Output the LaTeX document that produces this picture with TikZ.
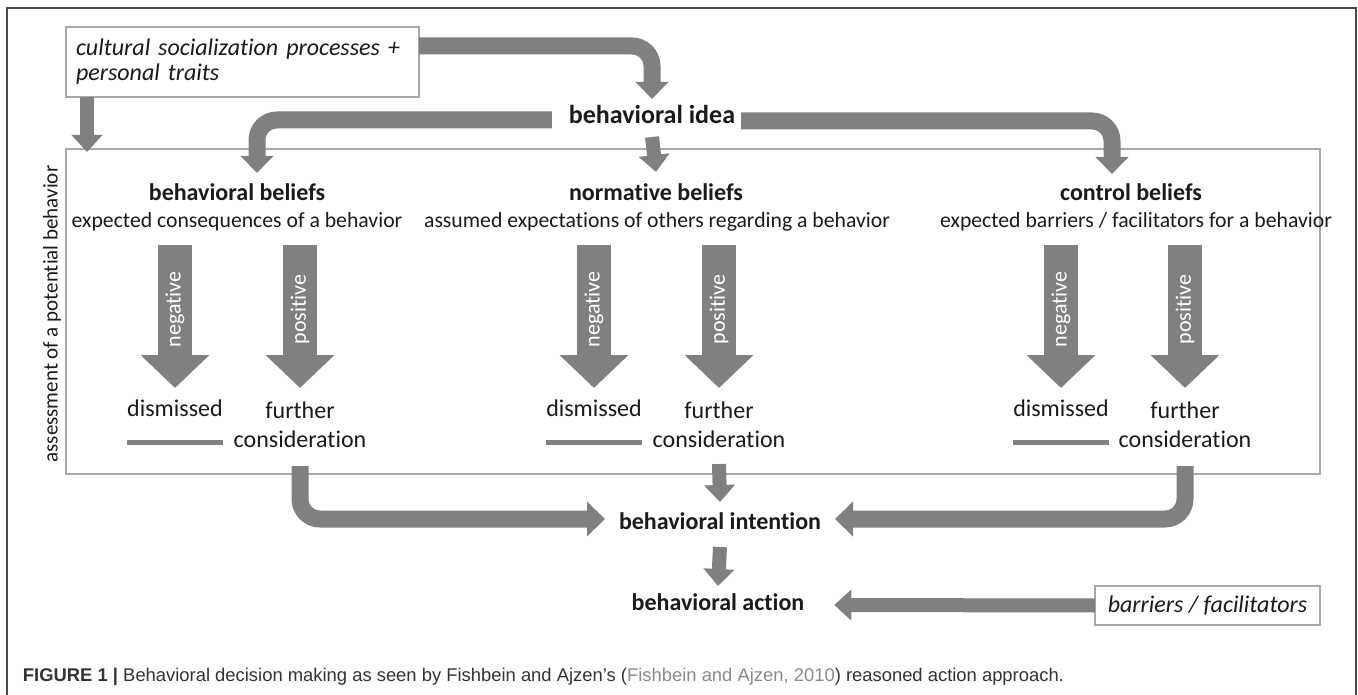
\documentclass[tikz,border=0pt]{standalone}
\usepackage{fontspec}
\setmainfont{Carlito}[Ligatures={NoCommon}]
\newfontfamily\capfont{Liberation Sans}
\usetikzlibrary{arrows.meta,calc}
\definecolor{ag}{HTML}{808080}
\definecolor{bx}{HTML}{A8A8A8}
\definecolor{txt}{HTML}{1A1A1A}
\definecolor{capc}{HTML}{333333}
\definecolor{capl}{HTML}{8A8A8A}
\begin{document}
\begin{tikzpicture}[x=1pt,y=-1pt,
  every node/.style={outer sep=0pt, text=txt},
  fat/.style={draw=ag, line width=17pt, rounded corners=20pt, -{Triangle[width=32pt,length=17pt]}},
  fatb/.style={draw=ag, line width=17pt, rounded corners=20pt, -{Triangle[width=34pt,length=18pt]}},
  short/.style={draw=ag, line width=14pt, -{Triangle[width=30pt,length=17pt]}},
  big/.style={draw=ag, line width=34pt, -{Triangle[width=67pt,length=33pt]}},
  dline/.style={draw=ag, line width=5pt},
  hd/.style={font=\fontsize{24}{28}\selectfont\bfseries, inner sep=0pt, text height=17pt, text depth=5pt},
  sb/.style={font=\fontsize{21.7}{26}\selectfont, inner sep=0pt, text height=15pt, text depth=5pt},
  lb/.style={font=\fontsize{24}{29}\selectfont, inner sep=0pt, text height=17pt, text depth=5pt},
  fc/.style={font=\fontsize{24}{29}\selectfont, inner sep=0pt, align=center},
  wt/.style={font=\fontsize{22}{26}\selectfont, text=white, rotate=90, inner sep=0pt},
  ibox/.style={draw=bx, line width=1.3pt, fill=white}]
\useasboundingbox (0,0) rectangle (1358,695);
% outer frame
\draw[color=black!72, line width=1.6pt] (7,695) -- (7,8) -- (1356,8) -- (1356,695);
% assessment box
\node[draw=bx, line width=1.4pt, minimum width=1254pt, minimum height=325pt, inner sep=0pt] (ib) at (693,311.5) {};
\node[font=\fontsize{21}{25}\selectfont, rotate=90, inner sep=0pt] (assess) at (52,314) {assessment of a potential behavior};
% cultural box
\node[ibox, text width=333pt, inner xsep=10pt, inner ysep=0pt, minimum height=70pt, align=left,
  font=\fontsize{24}{25}\selectfont\itshape] (cult) at (242.5,62) {cultural socialization processes +\\personal traits};
\node[hd, font=\fontsize{26}{30}\selectfont\bfseries, minimum height=38pt] (idea) at (652,118) {behavioral idea};
% column headings
\node[hd] (b1) at (237,195) {behavioral beliefs};
\node[hd] (n1) at (656,195) {normative beliefs};
\node[hd] (c1) at (1131,195) {control beliefs};
\node[sb] (s1) at (237,223) {expected consequences of a behavior};
\node[sb] (s2) at (657,223) {assumed expectations of others regarding a behavior};
\node[sb] (s3) at (1136,223) {expected barriers / facilitators for a behavior};
% outcomes
\node[lb] (d1) at (175,410) {dismissed};
\node[fc] (f1) at (300,424.5) {further\\consideration};
\node[lb] (d2) at (594,410) {dismissed};
\node[fc] (f2) at (719,424.5) {further\\consideration};
\node[lb] (d3) at (1061,410) {dismissed};
\node[fc] (f3) at (1185,424.5) {further\\consideration};
% bottom
\node[hd] (intention) at (720,523) {behavioral intention};
\node[hd] (action) at (718,604) {behavioral action};
\node[ibox, minimum width=225pt, minimum height=39pt, inner sep=0pt, font=\fontsize{24}{28}\selectfont\itshape] (bar) at (1207.5,605.5) {barriers / facilitators};
% top arrows
\draw[fat] ($(cult.north east)+(0,19)$) -| (idea.north);
\draw[short] ($(cult.south west)+(21,0)$) -- ($(ib.north west)+(21,3)$);
\draw[fat] ($(idea.west)+(-17,2)$) -| ($(b1.north)+(20,-11)$);
\draw[fat] ($(idea.east)+(6,3)$) -| ($(c1.north)+(-19,-10)$);
\draw[short] (idea.south) -- ($(n1.north)+(0,-12)$);
% big arrows
\foreach \d/\f/\s in {d1/f1/s1, d2/f2/s2, d3/f3/s3}{
  \draw[big] ($(\d |- \s.south)+(0,12)$) -- ($(\d.north)+(0,-11)$)
     node[wt, pos=0.45] {negative};
  \draw[big] ($(\f |- \s.south)+(0,12)$) -- ($(\f |- \d.north)+(0,-11)$)
     node[wt, pos=0.45] {positive};
  \draw[dline] ($(\d.south west)+(0,21)$) -- ($(\d.south east)+(0,21)$);
}
% to intention
\draw[fatb] ($(f1 |- ib.south)+(0,-8)$) |- ($(intention.west)+(-14,-4)$);
\draw[fatb] ($(f3 |- ib.south)+(0,-8)$) |- ($(intention.east)+(14,-4)$);
\draw[short] ($(f2 |- ib.south)+(0,-10)$) -- ($(intention.north)+(0,-10)$);
\draw[short] ($(intention.south)+(0,13)$) -- ($(action.north)+(0,-7)$);
\draw[short] (bar.west) -- ($(action.east)+(30,1)$);
% caption
\node[anchor=west, inner sep=0pt, font=\capfont\fontsize{18.4}{21}\selectfont, text=capc] (cap) at (23,677)
  {\textbf{FIGURE 1 |} Behavioral decision making as seen by Fishbein and Ajzen’s (\textcolor{capl}{Fishbein and Ajzen, 2010}) reasoned action approach.};
\end{tikzpicture}
\end{document}
